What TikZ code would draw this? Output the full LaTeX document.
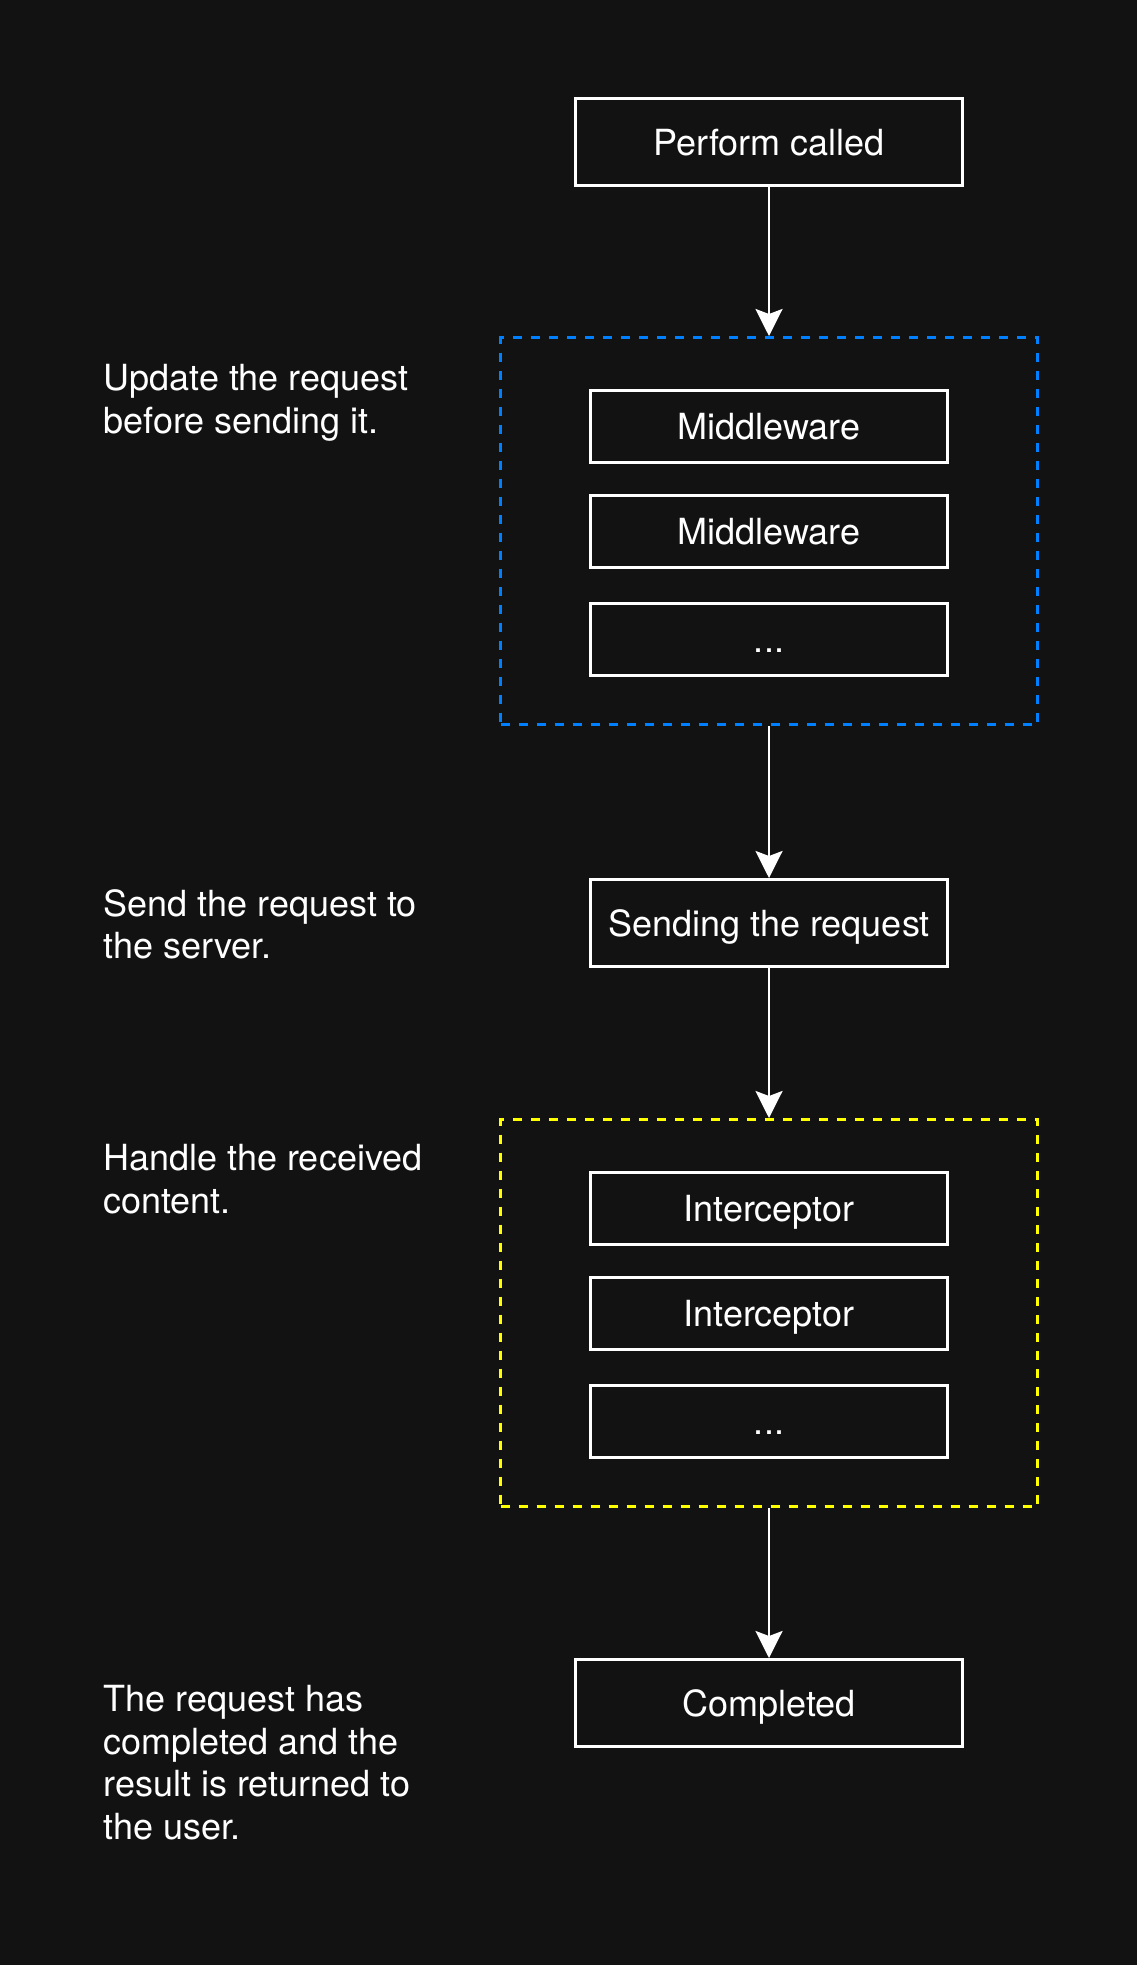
\documentclass[tikz,border=0pt]{standalone}
\usepackage{fontspec}
\setmainfont{TeX Gyre Heros}
\usetikzlibrary{arrows.meta, positioning}
\usepackage{xcolor}
\definecolor{bgdark}{HTML}{121212}
\definecolor{mwblue}{HTML}{007FFF}
\definecolor{icyellow}{HTML}{FFFF00}

\begin{document}
\begin{tikzpicture}[
x=0.5pt, y=-0.5pt,
box/.style={draw=white,
line width=1.5pt,
rectangle,
minimum width=193.5pt,
minimum height=43.5pt,
text height=13pt,
text depth=0pt,
text=white,
font=\fontsize{18}{21.3}\selectfont,
align=center},
inbox/.style={box,
minimum width=178.5pt,
minimum height=36pt},
group/.style={rectangle,
line width=1.5pt,
dash pattern=on 4.5pt off 4.5pt,
minimum width=268.5pt,
minimum height=193.5pt},
note/.style={text=white,
inner sep=0pt,
anchor=north west,
align=left,
font=\fontsize{18}{21.3}\selectfont},
arrow/.style={-{Stealth[length=13.5pt, width=13.5pt, inset=2.5pt]}, draw=white, line width=1.4pt}
]

\fill[bgdark] (0,0) rectangle (1137,1965);
\useasboundingbox (0,0) rectangle (1137,1965);

\node[box] (perform) at (769,142) {Perform called};

\node[group, draw=mwblue, below=74.5pt of perform] (mwgroup) {};
\node[inbox, below=26.5pt of mwgroup.north] (mw1) {Middleware};
\node[inbox, below=15pt of mw1] (mw2) {Middleware};
\node[inbox, below=16.5pt of mw2] (mw3) {...};

\node[box, minimum width=178.5pt, below=76pt of mwgroup] (send) {Sending the request};

\node[group, draw=icyellow, below=75pt of send] (icgroup) {};
\node[inbox, below=26.5pt of icgroup.north] (ic1) {Interceptor};
\node[inbox, below=15pt of ic1] (ic2) {Interceptor};
\node[inbox, below=16.5pt of ic2] (ic3) {...};

\node[box, below=75pt of icgroup] (done) {Completed};

\node[note] (noteupdate) at (103,364) {Update the request\\before sending it.};
\node[note] (notesend) at (103,889) {Send the request to\\the server.};
\node[note] (notehandle) at (103,1144) {Handle the received\\content.};
\node[note] (notedone) at (103,1685) {The request has\\completed and the\\result is returned to\\the user.};

\draw[arrow] (perform) -- (mwgroup);
\draw[arrow] (mwgroup) -- (send);
\draw[arrow] (send) -- (icgroup);
\draw[arrow] (icgroup) -- (done);

\end{tikzpicture}
\end{document}
